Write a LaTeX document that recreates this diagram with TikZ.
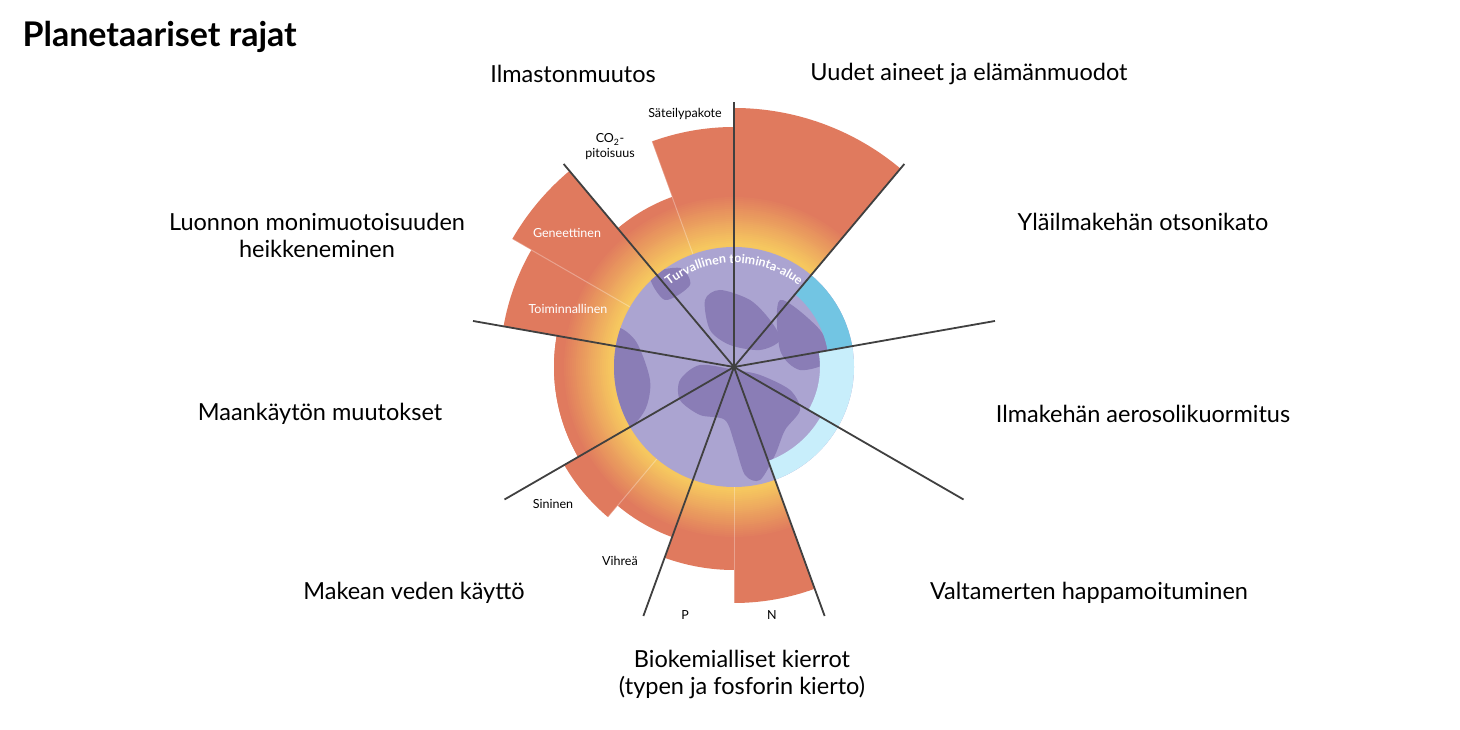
\documentclass[tikz,border=0pt]{standalone}
\usepackage{fontspec}
\setmainfont{Lato}
\usetikzlibrary{decorations.text,calc}
\definecolor{orng}{HTML}{E07A5E}
\definecolor{yel}{HTML}{F6C75F}
\definecolor{lav}{HTML}{ABA4D1}
\definecolor{cont}{HTML}{8A7DB6}
\definecolor{blueA}{HTML}{72C5E3}
\definecolor{blueB}{HTML}{C8EEFB}
\definecolor{axis}{HTML}{404040}
\newcommand\sect[3]{(C) -- ++(#1:#3pt) arc[start angle=#1,end angle=#2,radius=#3pt] -- cycle}
\newcommand\ann[4]{(C) ++(#1:#3pt) arc[start angle=#1,end angle=#2,radius=#3pt] -- ++(#2:#4pt-#3pt) arc[start angle=#2,end angle=#1,radius=#4pt] -- cycle}
\begin{document}
\begin{tikzpicture}[x=1pt,y=1pt,
  big/.style={font=\fontsize{23.5}{27}\selectfont,align=center},
  small/.style={font=\fontsize{12.5}{15}\selectfont,align=center},
  wsmall/.style={small,text=white},
  axisline/.style={draw=axis,line width=1.8pt},
  subline/.style={draw=white,opacity=0.3,line width=1pt}]
\useasboundingbox (0,0) rectangle (1460,730);
\fill[white] (0,0) rectangle (1460,730);
\coordinate (C) at (734,363);
% gradient wedges
\begin{scope}
\clip \sect{50}{90}{259} \sect{90}{110}{240} \sect{110}{130}{181}
      \sect{130}{150}{256} \sect{150}{170}{234} \sect{170}{210}{180}
      \sect{210}{230}{196} \sect{230}{250}{181} \sect{250}{270}{203}
      \sect{270}{290}{236};
\fill[orng] (C) circle[radius=262pt];
\foreach \r in {180,178,...,120}{
  \pgfmathtruncatemacro\p{max(0,min(100,(\r-124)*100/48))}
  \fill[orng!\p!yel] (C) circle[radius=\r pt];
}
\foreach \a/\rr in {110/240,150/256,230/196,270/236}
  \draw[subline] (C) -- ++(\a:\rr pt);
\end{scope}
% globe
\fill[lav] (C) circle[radius=120pt];
\begin{scope}
\clip (C) circle[radius=120pt];
\fill[cont] plot[smooth cycle] coordinates {(680,350) (700,365) (735,360) (760,355) (790,340) (800,320) (785,300) (775,275) (760,250) (745,255) (735,285) (725,310) (700,315) (680,330)};
\fill[cont] plot[smooth cycle] coordinates {(705,430) (720,440) (750,430) (770,410) (780,390) (760,380) (730,385) (710,400)};
\fill[cont] plot[smooth cycle] coordinates {(612,400) (635,390) (650,350) (645,320) (625,300) (608,330)};
\fill[cont] plot[smooth cycle] coordinates {(650,455) (680,462) (690,445) (665,430)};
\fill[cont] plot[smooth cycle] coordinates {(780,430) (820,400) (830,370) (800,360) (780,380)};
\fill[blueA] \ann{10}{50}{95}{125};
\fill[blueB] \ann{-30}{10}{86}{125};
\fill[blueB] \ann{-70}{-30}{100}{125};
\end{scope}
\path[decorate,decoration={text along path,text align=center,
  text={|\bfseries\fontsize{12.5}{14}\selectfont\color{white}|Turvallinen toiminta-alue}}]
  (C) ++(140:104pt) arc[start angle=140,end angle=40,radius=104pt];
% axes
\foreach \a [count=\i] in {90,50,10,-30,-70,-110,-150,170,130}{
  \coordinate (e\i) at ($(C)+(\a:265pt)$);
}
\foreach \i in {1,...,9} \draw[axisline] (C) -- (e\i);
\fill[axis] (C) circle[radius=3pt];
% labels
\node[anchor=west,font=\bfseries\fontsize{34}{40}\selectfont] (title) at (19,693) {Planetaariset rajat};
\node[big] (l1) at (573,656) {Ilmastonmuutos};
\node[big] (l2) at (969,656) {Uudet aineet ja elämänmuodot};
\node[big] (l3) at (1143,508) {Yläilmakehän otsonikato};
\node[big] (l4) at (1143,316) {Ilmakehän aerosolikuormitus};
\node[big] (l5) at (1089,137) {Valtamerten happamoituminen};
\node[big] (l6) at (742,56) {Biokemialliset kierrot\\(typen ja fosforin kierto)};
\node[big] (l7) at (414,137) {Makean veden käyttö};
\node[big] (l8) at (320,316) {Maankäytön muutokset};
\node[big] (l9) at (317,495) {Luonnon monimuotoisuuden\\heikkeneminen};
\node[small] (s1) at (685,616) {Säteilypakote};
\node[small] (s2) at (610,583) {CO\textsubscript{2}-\\pitoisuus};
\node[wsmall] (s3) at (567,497) {Geneettinen};
\node[wsmall] (s4) at (568,421) {Toiminnallinen};
\node[small] (s5) at (553,226) {Sininen};
\node[small] (s6) at (620,169) {Vihreä};
\node[small] (s7) at (685,115) {P};
\node[small] (s8) at (772,115) {N};
\end{tikzpicture}
\end{document}
